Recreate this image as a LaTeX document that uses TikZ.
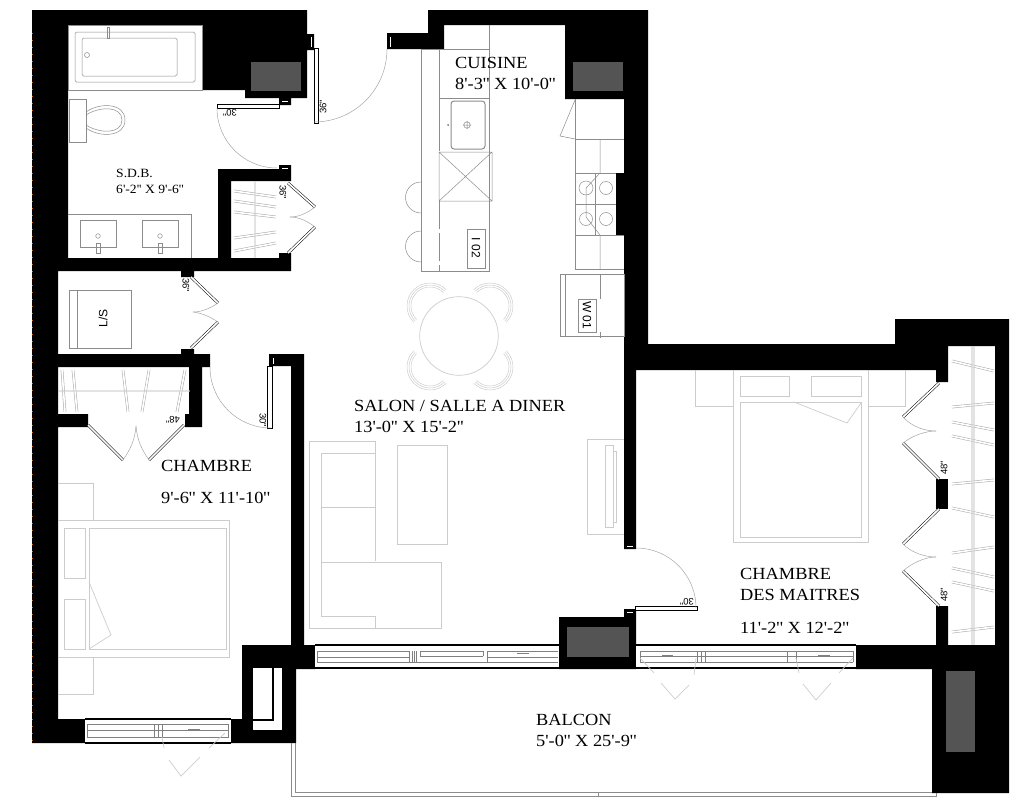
\documentclass[tikz,border=0pt]{standalone}
\usepackage{fontspec}
\newfontfamily\planfont[FakeStretch=1.08]{Liberation Serif}
\newfontfamily\tagfont{Liberation Sans}
\begin{document}
\begin{tikzpicture}
[x=1pt,y=-1pt,
 wall/.style={fill=black},
 shaft/.style={fill=black!67},
 tick/.style={draw=white,line width=.8pt},
 leaf/.style={draw=black,fill=white,line width=.6pt},
 fold/.style={draw=black,double=white,double distance=1.7pt,line width=.5pt},
 swing/.style={draw=black!35,line width=.5pt},
 furn/.style={draw=black!20,line width=.7pt},
 fixt/.style={draw=black!45,line width=.5pt},
 pane/.style={draw=black!50,line width=.5pt},
 rod/.style={draw=black!18,opacity=.6},
 hanger/.style={draw=black!32,double=white,double distance=1.6pt,line width=.55pt},
 room/.style={font=\planfont\fontsize{17}{21}\selectfont,align=left,anchor=west,inner sep=0pt},
 small/.style={font=\planfont\fontsize{12.6}{16}\selectfont,align=left,anchor=west,inner sep=0pt},
 tag/.style={font=\tagfont\fontsize{9.5}{10}\selectfont,inner sep=0pt},
 unit/.style={font=\tagfont\fontsize{12}{13}\selectfont,inner sep=0pt}]
\useasboundingbox (0,0) rectangle (1024,806);

% walls
\fill[wall] (32,10) -- (307,10) -- (307,34) -- (314,34) -- (314,50) -- (307,50) -- (307,98) -- (291,98)
 -- (291,105) -- (279,105) -- (279,98) -- (245,98) -- (245,90) -- (202,90) -- (202,25) -- (68,25)
 -- (68,258) -- (218,258) -- (218,169) -- (279,169) -- (279,165) -- (291,165) -- (291,181) -- (231,181)
 -- (231,258) -- (279,258) -- (279,253) -- (291,253) -- (291,271) -- (194,271) -- (194,277) -- (181,277)
 -- (181,271) -- (58,271) -- (58,354) -- (181,354) -- (181,349) -- (194,349) -- (194,354) -- (210,354)
 -- (210,367) -- (202,367) -- (202,427) -- (185,427) -- (185,414) -- (189,414) -- (189,367) -- (58,367)
 -- (58,414) -- (88,414) -- (88,427) -- (58,427) -- (58,719) -- (85,719) -- (85,743) -- (32,743) -- cycle;
\fill[wall] (231,719) -- (242,719) -- (242,645) -- (291,645) -- (291,366) -- (269,366) -- (269,354)
 -- (304,354) -- (304,645) -- (315,645) -- (315,669) -- (296,669) -- (296,743) -- (231,743) -- cycle;
\fill[wall] (428,10) -- (648,10) -- (648,344) -- (895,344) -- (895,319) -- (1009,319) -- (1009,793)
 -- (932,793) -- (932,669) -- (856,669) -- (856,645) -- (936,645) -- (936,606) -- (948,606) -- (948,645)
 -- (995,645) -- (995,346) -- (948,346) -- (948,382) -- (936,382) -- (936,370) -- (636,370) -- (636,549)
 -- (624,549) -- (624,235) -- (616,235) -- (616,173) -- (624,173) -- (624,99) -- (565,99) -- (565,25)
 -- (444,25) -- (444,49) -- (387,49) -- (387,33) -- (428,33) -- cycle;
\fill[wall] (936,479) rectangle (948,509);
\fill[wall] (559,617) -- (624,617) -- (624,609) -- (636,609) -- (636,669) -- (559,669) -- cycle;
\fill[shaft] (251,62) rectangle (301,91);
\fill[shaft] (573,62) rectangle (623,91);
\fill[shaft] (567,627) rectangle (629,657);
\fill[shaft] (946,671) rectangle (975,752);
\draw[orange!80!black,line width=.8pt,dash pattern=on 1pt off 6pt] (32,33) -- (32,743);

% ticks in the door jambs
\draw[tick] (311,37) -- (311,47);
\draw[tick] (390,37) -- (390,47);
\draw[tick] (273,358) -- (273,364);
\draw[tick] (282,101) -- (288,101);
\draw[tick] (282,168) -- (288,168);
\draw[tick] (627,546) -- (633,546);
\draw[tick] (627,612) -- (633,612);

% shaft beside the balcony
\fill[white] (253,668) rectangle (282,730);
\draw[black,line width=1.5pt] (273,668) -- (273,720) -- (253,720);

% windows
\fill[white] (85,719) rectangle (231,743);
\fill[white] (315,645) rectangle (559,668);
\fill[white] (636,645) rectangle (856,668);
\draw[black,line width=1.6pt] (85,719) -- (231,719) (85,743) -- (231,743) (315,645) -- (559,645)
 (315,668) -- (559,668) (636,645) -- (856,645) (636,668) -- (856,668);
\draw[pane] (87,724) rectangle (228,737) (87,730) -- (228,730) (154,724) -- (154,737) (158,724) -- (158,737)
 (162,724) -- (162,737) (188,729) -- (200,729);
\draw[pane] (317,651) -- (409,651) (317,657) -- (409,657) (317,662) -- (558,662) (317,651) -- (317,662)
 (409,651) -- (409,662) (412,651) -- (412,662) (414,651) -- (414,662) (416,651) -- (416,662)
 (420,651) -- (483,651) (420,656) -- (483,656) (420,651) -- (420,656) (483,651) -- (483,656)
 (487,651) -- (487,662) (487,657) -- (558,657) (487,651) -- (558,651) (517,653) -- (529,653);
\draw[pane] (640,651) -- (853,651) (640,656) -- (853,656) (640,662) -- (853,662) (640,651) -- (640,662)
 (697,651) -- (697,662) (701,651) -- (701,662) (705,651) -- (705,662) (787,651) -- (787,662)
 (796,651) -- (796,662) (853,651) -- (853,662) (662,655) -- (673,655) (818,655) -- (830,655);
% swings of the balcony doors
\draw[furn] (162,737) -- (164,748) (169,760) -- (181,776) -- (200,757) (209,748) -- (225,733);
\draw[furn] (640,658) -- (654,673) (696,658) -- (694,675) (661,683) -- (675,699) -- (689,685);
\draw[furn] (796,658) -- (799,673) (853,658) -- (839,673) (803,684) -- (816,700) -- (831,683);

% balcony rail
\draw[fixt] (291,743) -- (291,796) -- (936,796) -- (936,793);
\draw[fixt] (295,743) -- (295,792) -- (932,792) (598,792) -- (598,796);

% doors
\draw[leaf] (314,48) rectangle (318,123);
\draw[swing] (387,49) arc[start angle=0,end angle=90,radius=73];
\node[tag,rotate=90] (tagA) at (323,107) {36"};
\draw[leaf] (217,104) rectangle (279,108);
\draw[swing] (217,108) arc[start angle=180,end angle=90,radius=60];
\node[tag,rotate=180] (tagB) at (230,113) {30"};
\draw[leaf] (267,366) rectangle (272,428);
\draw[swing] (210,367) arc[start angle=180,end angle=90,radius=61];
\node[tag,rotate=-90] (tagC) at (263,420) {30"};
\draw[leaf] (635,606) rectangle (697,610);
\draw[swing] (636,548) arc[start angle=270,end angle=360,radius=60];
\node[tag,rotate=180] (tagD) at (687,602) {30"};

% folding doors
\draw[fold] (288,183) -- (315,207) (315,227) -- (288,253);
\draw[swing] (315,207) .. controls (306,214) and (298,217) .. (290,217);
\draw[swing] (315,227) .. controls (306,220) and (298,217) .. (290,217);
\node[tag,rotate=-90] (tagE) at (283,192) {36"};
\draw[fold] (191,277) -- (218,303) (218,322) -- (191,348);
\draw[swing] (218,303) .. controls (209,309) and (201,312) .. (193,312);
\draw[swing] (218,322) .. controls (209,316) and (201,313) .. (193,312);
\node[tag,rotate=-90] (tagF) at (186,285) {36"};
\draw[fold] (88,425) -- (123,460) (184,425) -- (149,460);
\draw[swing] (123,460) .. controls (130,450) and (135,440) .. (136,426);
\draw[swing] (149,460) .. controls (142,450) and (137,440) .. (136,426);
\node[tag,rotate=180] (tagG) at (173,420) {48"};
\draw[fold] (939,383) -- (903,417) (903,443) -- (939,479) (939,509) -- (903,544) (903,571) -- (939,606);
\draw[swing] (903,417) .. controls (912,427) and (925,431) .. (936,431);
\draw[swing] (903,443) .. controls (912,436) and (925,431) .. (936,431);
\draw[swing] (903,544) .. controls (912,553) and (925,557) .. (936,557);
\draw[swing] (903,571) .. controls (912,563) and (925,557) .. (936,557);
\node[tag,rotate=90] (tagH) at (944,468) {48"};
\node[tag,rotate=90] (tagI) at (944,595) {48"};

% closets
\foreach \ya/\yb in {191/197,201/207,212/217,223/223,238/232,251/243}
  \draw[hanger] (234,\ya) -- (276,\yb);
\draw[rod,line width=2pt] (255,181) -- (255,258);
\foreach \xa/\xb in {62/65,73/77,86/86,96/96,105/105,114/114,123/128,133/133,149/142,158/158,169/169,185/177}
  \draw[hanger] (\xa,370) -- (\xb,412);
\draw[rod,line width=2pt] (58,391) -- (190,391);
\foreach \ya/\yb in {353/353,361/371,375/375,384/384,393/393,407/403,413/413,422/430,436/445,453/453,462/462,471/471,484/480,491/491,500/500,508/517,522/522,531/531,539/539,553/547,559/559,568/577,582/591,599/599,608/608,617/617,632/627,637/637}
  \draw[hanger] (952,\ya) -- (994,\yb);
\draw[rod,line width=3.5pt] (973,346) -- (973,645);

% bathroom
\draw[fixt] (68,25) rectangle (202,90);
\draw[fixt,rounded corners=1.5pt] (75,32) rectangle (195,82);
\draw[fixt,rounded corners=1.5pt] (82,38) rectangle (177,76);
\draw[fixt] (87,55) circle (2.5);
\draw[fixt] (107,27) rectangle (109,38) (128,25) -- (136,25);
\draw[fixt] (69,99) rectangle (86,142);
\draw[fixt] (86,112) .. controls (100,102) and (125,103) .. (125,120) .. controls (125,137) and (100,138) .. (86,128);
\draw[fixt] (86,115) .. controls (100,106) and (122,106) .. (122,120) .. controls (122,134) and (100,134) .. (86,125);
\draw[fixt] (68,214) -- (191,214) -- (191,258);
\draw[fixt] (80,220) rectangle (116,247) (142,220) rectangle (178,247);
\draw[fixt] (98,236) circle (2.3) (160,236) circle (2.3);
\draw[fixt] (96,243) rectangle (100,253) (158,243) rectangle (162,253);

% kitchen
\draw[fixt] (421,49) -- (421,271) -- (489,271) -- (489,25);
\draw[fixt] (421,49) -- (489,49) (439,98) -- (489,98) (439,49) -- (439,151);
\draw[fixt,dash pattern=on 28pt off 4pt] (439,201) -- (439,271);
\draw[fixt,rounded corners=3pt,line width=1pt] (451,101) rectangle (485,149);
\draw[fixt] (467,125) circle (3.3) (463,125) -- (471,125) (467,121) -- (467,129);
\fill[black!55] (448,125) circle (1);
\draw[fixt] (439,152) rectangle (492,201) (439,152) -- (492,201) (439,201) -- (492,152);
\draw[fixt] (421,182) arc[start angle=270,end angle=90,radius=15.5];
\draw[fixt] (421,231) arc[start angle=270,end angle=90,radius=15.5];
\draw[fixt] (467,229) rectangle (485,268);
\node[unit,rotate=-90] (unitI) at (476,248) {I 02};
\draw[fixt] (575,99) -- (575,269) -- (624,269) (575,139) -- (624,139) (575,173) -- (616,173)
 (575,235) -- (624,235) (595,173) -- (595,235) (575,204) -- (616,204);
\draw[fixt] (575,100) -- (560,136) -- (575,139);
\draw[fixt] (600,139) -- (600,173) -- (586,188) -- (586,217) -- (600,235) -- (600,269);
\draw[fixt] (586,188) circle (7) (606,188) circle (6.5) (586,219) circle (6.5) (606,219) circle (6.5);
\draw[fixt] (560,274) rectangle (624,336) (565,274) -- (565,336) (600,274) -- (600,299) (600,332) -- (600,338);
\draw[fixt] (578,299) rectangle (596,332);
\node[unit,rotate=-90] (unitW) at (587,315) {W 01};

% dining table
\draw[furn] (459,336) circle (39.3);
\foreach \cx/\cy/\ang in {430/306/135,490/306/225,430/367/45,490/367/-45}
  \foreach \r in {19,21,23}
    \draw[furn,line width=.5pt,shift={(\cx,\cy)}] (\ang:\r) arc[start angle=\ang,end angle=\ang+180,radius=\r];

% living room
\draw[furn] (375,561) -- (375,441) -- (309,441) -- (309,628) -- (441,628) -- (441,562) -- (321,562) -- (321,453) -- (375,453);
\draw[furn] (321,507) -- (375,507) (321,562) -- (321,616) -- (375,616) -- (375,628);
\draw[furn] (397,445) rectangle (447,544);
\draw[furn] (624,439) -- (587,439) -- (587,534) -- (624,534);
\draw[furn] (605,445) rectangle (613,527) (613,451) -- (616,451) -- (616,522) -- (613,522);

% bedrooms
\draw[furn] (58,520) -- (229,520) -- (229,657) -- (58,657);
\draw[furn] (89,528) rectangle (226,649);
\draw[furn] (64,528) rectangle (85,578) (64,599) rectangle (85,649);
\draw[furn] (58,483) -- (93,483) -- (93,520) (58,694) -- (93,694) -- (93,657);
\draw[furn] (89,582) -- (111,635) -- (89,649);
\draw[furn] (733,370) -- (733,542) -- (868,542) -- (868,370);
\draw[furn] (740,402) rectangle (861,537);
\draw[furn] (740,376) rectangle (789,396) (811,376) rectangle (861,396);
\draw[furn] (695,370) -- (695,406) -- (733,406) (905,370) -- (905,406) -- (868,406);
\draw[furn] (794,402) -- (847,423) -- (861,403);

% labels
\node[small] (sdb) at (116,181) {S.D.B.\\6'-2'' X 9'-6''};
\node[room] (cuisine) at (455,73.5) {CUISINE\\8'-3'' X 10'-0''};
\node[room] (salon) at (354,416.5) {SALON / SALLE A DINER\\13'-0'' X 15'-2''};
\node[room] (chambre) at (161,466) {CHAMBRE};
\node[room] (chambreDim) at (161,498) {9'-6'' X 11'-10''};
\node[room] (maitres) at (740,584) {CHAMBRE\\DES MAITRES};
\node[room] (maitresDim) at (740,628) {11'-2'' X 12'-2''};
\node[room] (balcon) at (536,730.5) {BALCON\\5'-0'' X 25'-9''};
\node[font=\tagfont\fontsize{12}{13}\selectfont,rotate=90,inner sep=0pt] (lavage) at (103,318) {L/S};
\draw[fixt] (69,290) rectangle (131,348) (77,290) -- (77,348);
\end{tikzpicture}
\end{document}
